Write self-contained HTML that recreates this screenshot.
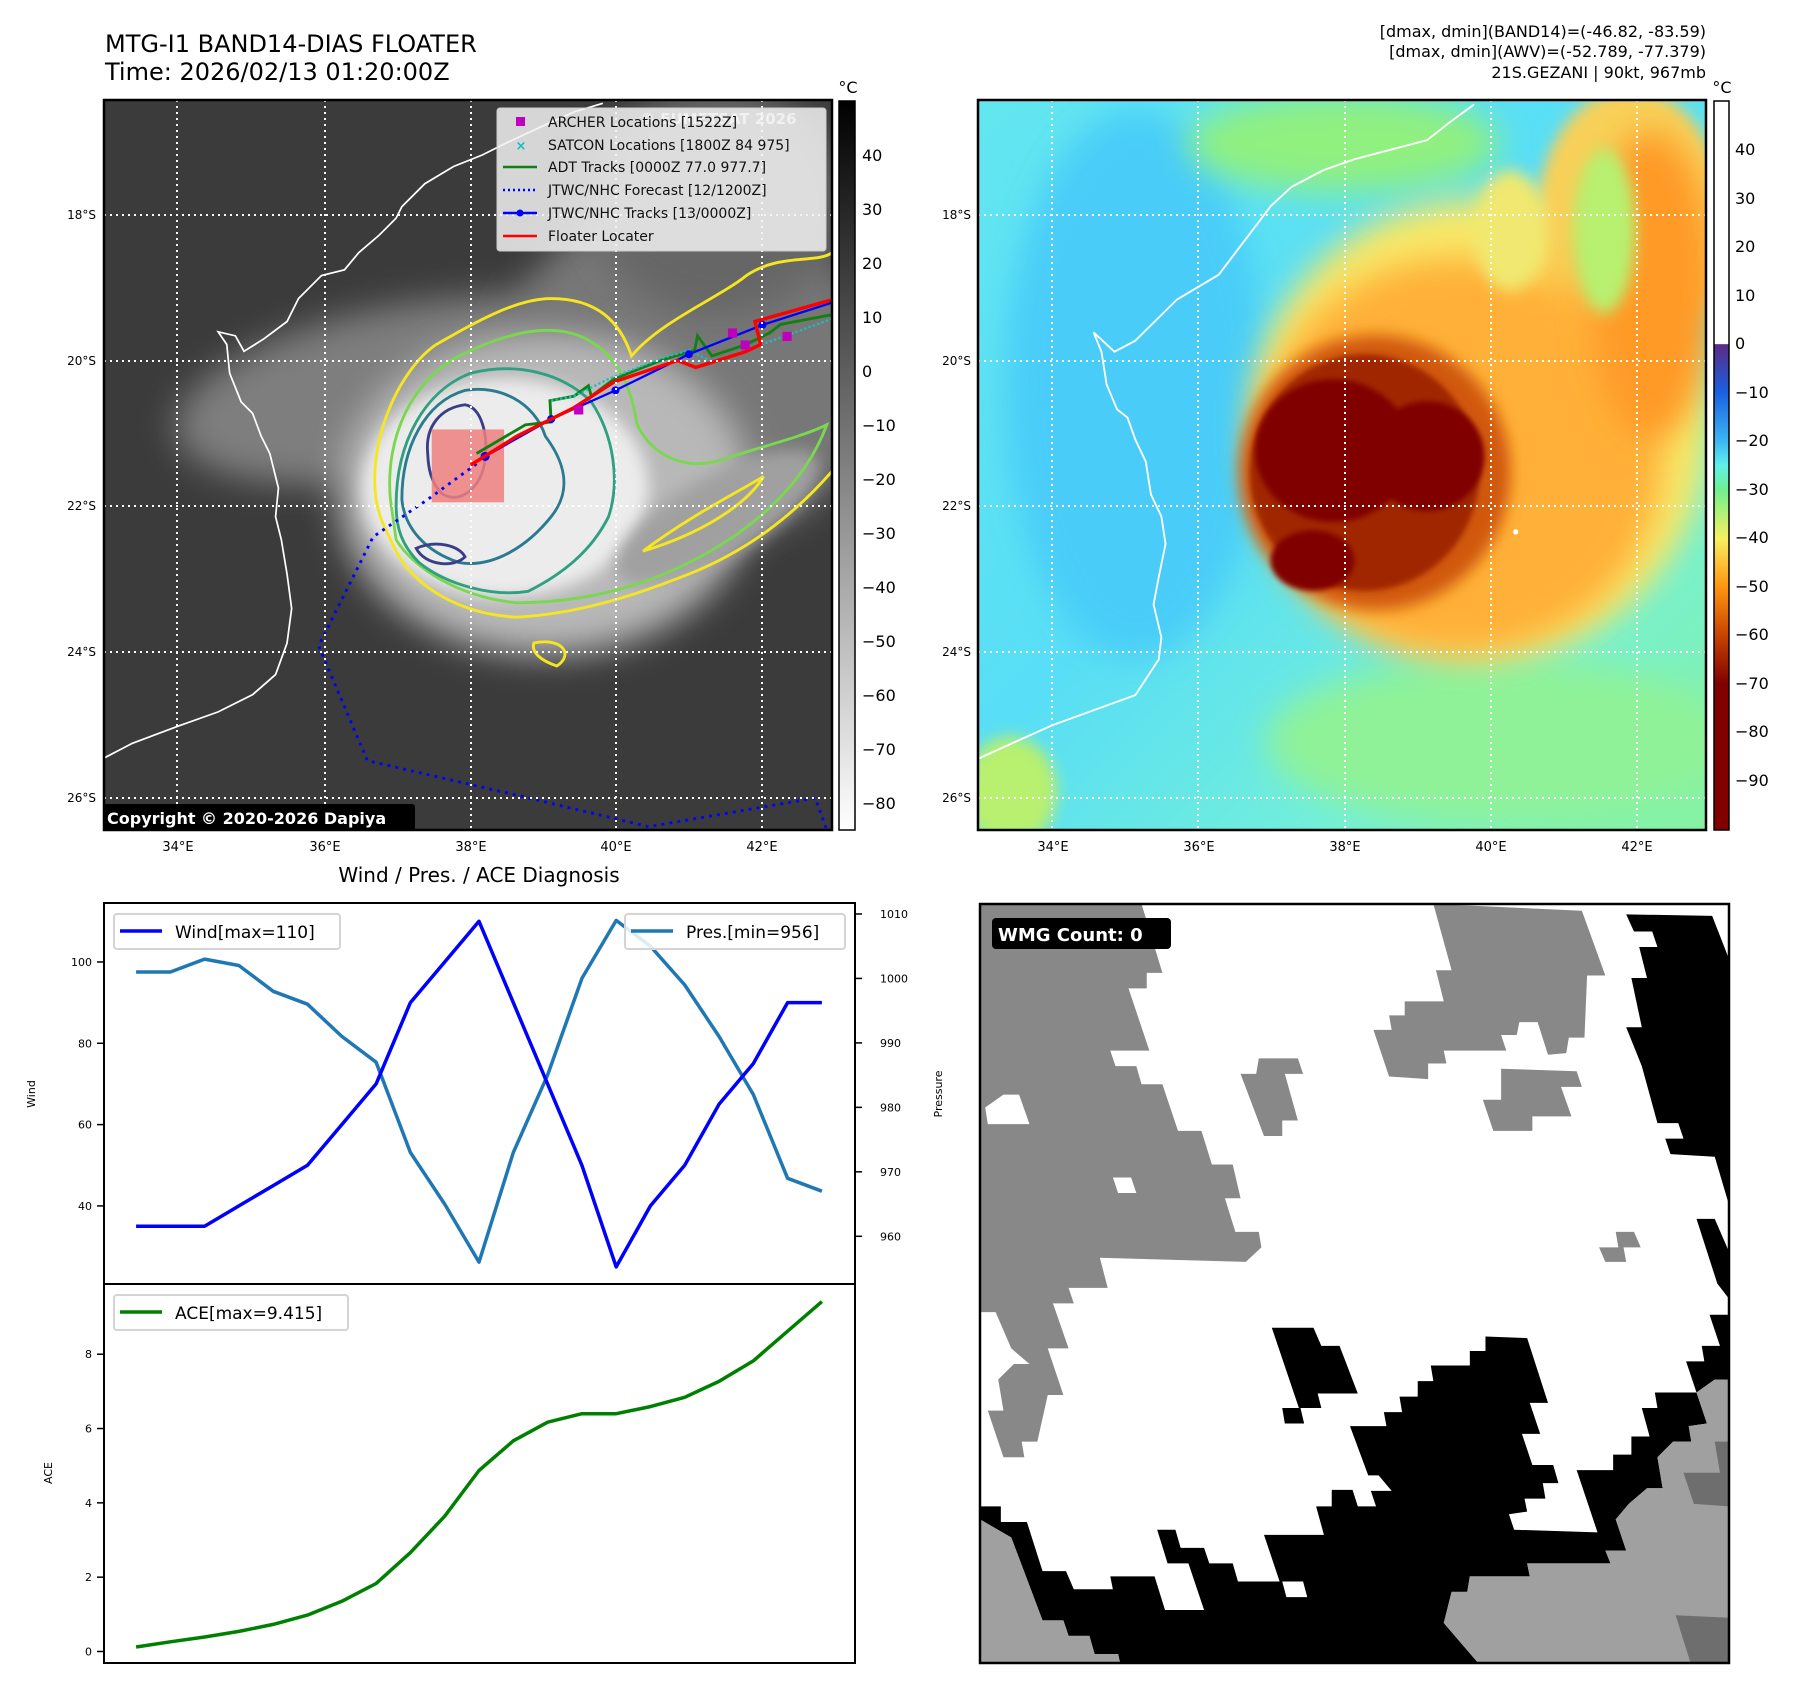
<!DOCTYPE html>
<html><head><meta charset="utf-8"><title>MTG-I1 BAND14 DIAS Floater</title>
<style>
html,body{margin:0;padding:0;background:#fff;}
svg{display:block;font-family:"DejaVu Sans","Liberation Sans",sans-serif;}
</style></head>
<body>
<svg id="page" width="1797" height="1690" viewBox="0 0 1797 1690" xmlns="http://www.w3.org/2000/svg">
<defs>
  <filter id="blur8" x="-20%" y="-20%" width="140%" height="140%"><feGaussianBlur stdDeviation="14"/></filter>
  <filter id="blur20" x="-30%" y="-30%" width="160%" height="160%"><feGaussianBlur stdDeviation="30"/></filter>
  <filter id="blur4"><feGaussianBlur stdDeviation="5"/></filter>
  <clipPath id="clip1"><rect x="104" y="100" width="728" height="730"/></clipPath>
  <clipPath id="clip2"><rect x="978" y="100" width="728" height="730"/></clipPath>
  <clipPath id="clip4"><rect x="980" y="904" width="749" height="759"/></clipPath>
  <linearGradient id="cbGray" x1="0" y1="0" x2="0" y2="1">
    <stop offset="0" stop-color="#000"/><stop offset="1" stop-color="#fff"/>
  </linearGradient>
  <linearGradient id="cbColor" x1="0" y1="0" x2="0" y2="1">
    <stop offset="0" stop-color="#fff"/>
    <stop offset="0.333" stop-color="#fff"/>
    <stop offset="0.334" stop-color="#5b2a86"/>
    <stop offset="0.40" stop-color="#1a60e0"/>
    <stop offset="0.467" stop-color="#3cb8f4"/>
    <stop offset="0.50" stop-color="#60f0e8"/>
    <stop offset="0.533" stop-color="#70f090"/>
    <stop offset="0.60" stop-color="#f8f060"/>
    <stop offset="0.667" stop-color="#ff9410"/>
    <stop offset="0.733" stop-color="#c84400"/>
    <stop offset="0.80" stop-color="#800000"/>
    <stop offset="1" stop-color="#800000"/>
  </linearGradient>
  <linearGradient id="seaBg" x1="0" y1="0" x2="1" y2="1">
    <stop offset="0" stop-color="#62e6f0"/><stop offset="0.45" stop-color="#58def6"/>
    <stop offset="0.75" stop-color="#74f0d8"/><stop offset="1" stop-color="#86f2a0"/>
  </linearGradient>
</defs>

<!-- ============ TITLES ============ -->
<text x="105" y="52" font-size="24" fill="#000">MTG-I1 BAND14-DIAS FLOATER</text>
<text x="105" y="80" font-size="24" fill="#000">Time: 2026/02/13 01:20:00Z</text>
<g font-size="16" text-anchor="end" fill="#000">
  <text x="1706" y="37">[dmax, dmin](BAND14)=(-46.82, -83.59)</text>
  <text x="1706" y="57">[dmax, dmin](AWV)=(-52.789, -77.379)</text>
  <text x="1706" y="78">21S.GEZANI | 90kt, 967mb</text>
</g>

<!-- ============ MAP 1 (IR gray) ============ -->
<g clip-path="url(#clip1)">
  <rect x="104" y="100" width="728" height="730" fill="#3b3b3b"/>
  <g transform="scale(0.5741)">
    <ellipse cx="720" cy="680" rx="420" ry="150" fill="#7e7e7e" filter="url(#blur20)" transform="rotate(-10 720 680)"/>
    <ellipse cx="1200" cy="650" rx="330" ry="300" fill="#777" filter="url(#blur20)"/>
    <ellipse cx="1250" cy="350" rx="220" ry="200" fill="#666" filter="url(#blur20)"/>
    <ellipse cx="950" cy="860" rx="360" ry="280" fill="#b8b8b8" filter="url(#blur20)"/>
    <ellipse cx="880" cy="850" rx="250" ry="190" fill="#ececec" filter="url(#blur8)"/>
    <ellipse cx="1250" cy="900" rx="200" ry="70" fill="#a0a0a0" filter="url(#blur8)" transform="rotate(-30 1250 900)"/>
    <path fill="none" stroke="#f5e620" stroke-width="5" d="M655,870 C640,760 700,640 760,600 C830,560 900,520 960,520 C1040,520 1080,560 1100,620 C1150,560 1250,520 1300,480 C1360,440 1420,460 1450,440 L1450,820 C1380,900 1300,960 1200,1000 C1100,1040 1000,1070 900,1075 C800,1070 720,1020 690,960 C670,920 660,900 655,870 Z"/>
    <path fill="none" stroke="#f5e620" stroke-width="5" d="M1120,960 C1200,900 1280,860 1330,830 C1300,880 1220,930 1120,960 Z"/>
    <path fill="none" stroke="#f5e620" stroke-width="5" d="M930,1120 C980,1110 1000,1140 970,1160 C940,1150 925,1135 930,1120 Z"/>
    <path fill="none" stroke="#7ad850" stroke-width="5" d="M680,870 C670,760 720,660 800,620 C880,580 960,560 1020,590 C1080,620 1100,680 1110,740 C1140,800 1200,820 1260,800 C1320,780 1400,760 1440,740 C1400,850 1300,930 1200,980 C1100,1030 1000,1050 900,1050 C800,1040 720,990 690,940 Z"/>
    <path fill="none" stroke="#30a080" stroke-width="5" d="M690,880 C690,770 740,680 820,650 C900,630 980,650 1030,700 C1070,760 1080,840 1060,900 C1030,960 980,1000 920,1030 C860,1040 780,1020 730,980 C700,950 690,920 690,880 Z"/>
    <path fill="none" stroke="#2a7a90" stroke-width="5" d="M700,870 C700,780 740,700 810,680 C870,670 930,700 950,760 C980,800 1000,850 960,900 C920,950 860,990 800,980 C740,960 705,920 700,870 Z"/>
    <path fill="none" stroke="#3a3d88" stroke-width="5" d="M745,790 C740,740 770,710 810,705 C840,710 850,760 845,800 C840,850 800,880 770,860 C750,840 746,815 745,790 Z"/>
    <path fill="none" stroke="#3a3d88" stroke-width="5" d="M725,955 C760,940 800,950 810,970 C790,990 740,985 725,955 Z"/>
    <rect x="752" y="748" width="126" height="127" fill="#f08080" opacity="0.85"/>
    <polyline fill="none" stroke="#0000ff" stroke-width="5" stroke-dasharray="5 9" points="830,808 745,870 650,935 555,1125 640,1325 900,1385 1130,1440 1420,1390 1440,1445"/>
    <polyline fill="none" stroke="#108010" stroke-width="5" points="830,790 915,740 960,735 958,698 1000,690 1025,672 1030,690 1070,660 1150,628 1210,610 1215,585 1240,620 1300,600 1340,580 1360,565 1450,548"/>
    <polyline fill="none" stroke="#18c0c0" stroke-width="4" stroke-dasharray="4 4" points="960,698 1000,690 1060,660 1150,625 1200,610 1240,630 1300,610 1450,555"/>
    <polyline fill="none" stroke="#0000ff" stroke-width="4" points="845,795 960,730 1072,680 1200,617 1328,566 1450,527"/>
    <g fill="#0000ff"><circle cx="845" cy="795" r="8"/><circle cx="960" cy="730" r="7"/><circle cx="1072" cy="680" r="7"/><circle cx="1200" cy="617" r="7"/><circle cx="1328" cy="566" r="7"/></g>
    <polyline fill="none" stroke="#ff0000" stroke-width="6" points="820,810 900,760 1000,710 1070,665 1180,628 1212,640 1300,612 1325,600 1315,560 1450,522"/>
    <g fill="#c000c0">
      <rect x="1268" y="572" width="16" height="16"/><rect x="1290" y="593" width="16" height="16"/><rect x="1363" y="578" width="16" height="16"/><rect x="1000" y="706" width="16" height="16"/>
    </g>
    <path fill="none" stroke="#fff" stroke-width="3" d="M182,1320 L230,1295 L310,1265 L380,1240 L440,1210 L480,1175 L500,1120 L508,1060 L500,1000 L490,940 L480,900 L485,850 L470,790 L455,760 L440,720 L420,700 L400,650 L395,600 L380,578 L410,585 L425,612 L460,590 L500,560 L520,520 L560,480 L600,470 L625,440 L660,410 L690,380 L700,360 L740,320 L790,290 L840,270 L880,250 L940,222 L1000,195 L1050,180"/>
  </g>
  <g stroke="#fff" stroke-width="2" stroke-dasharray="2 4">
    <line x1="177" y1="100" x2="177" y2="830"/><line x1="325" y1="100" x2="325" y2="830"/><line x1="471" y1="100" x2="471" y2="830"/><line x1="616" y1="100" x2="616" y2="830"/><line x1="762" y1="100" x2="762" y2="830"/>
    <line x1="104" y1="215" x2="832" y2="215"/><line x1="104" y1="361" x2="832" y2="361"/><line x1="104" y1="506" x2="832" y2="506"/><line x1="104" y1="652" x2="832" y2="652"/><line x1="104" y1="798" x2="832" y2="798"/>
  </g>
  <g>
    <rect x="497" y="108" width="329" height="143" rx="3" fill="#f2f2f2" fill-opacity="0.85" stroke="#ccc"/>
    <text x="640" y="124" font-size="15" font-weight="bold" fill="#fff" opacity="0.6">© EUMETSAT 2026</text>
    <rect x="516" y="117" width="9" height="9" fill="#c000c0"/>
    <text x="521" y="150" font-size="13" fill="#10c0c0" text-anchor="middle" font-weight="bold">×</text>
    <line x1="503" y1="167" x2="537" y2="167" stroke="#108010" stroke-width="2.5"/>
    <line x1="503" y1="190" x2="537" y2="190" stroke="#0000ff" stroke-width="2.5" stroke-dasharray="2 3"/>
    <line x1="503" y1="213" x2="537" y2="213" stroke="#0000ff" stroke-width="2.5"/><circle cx="520" cy="213" r="3.5" fill="#0000ff"/>
    <line x1="503" y1="236" x2="537" y2="236" stroke="#ff0000" stroke-width="2.5"/>
    <g font-size="14" fill="#111">
      <text x="548" y="127">ARCHER Locations [1522Z]</text>
      <text x="548" y="150">SATCON Locations [1800Z 84 975]</text>
      <text x="548" y="172">ADT Tracks [0000Z 77.0 977.7]</text>
      <text x="548" y="195">JTWC/NHC Forecast [12/1200Z]</text>
      <text x="548" y="218">JTWC/NHC Tracks [13/0000Z]</text>
      <text x="548" y="241">Floater Locater</text>
    </g>
  </g>
  <rect x="102" y="804" width="313" height="27" rx="3" fill="#000"/>
  <text x="107" y="824" font-size="16" font-weight="bold" fill="#fff">Copyright © 2020-2026 Dapiya</text>
</g>
<rect x="104" y="100" width="728" height="730" fill="none" stroke="#000" stroke-width="2.5"/>
<g font-size="12" fill="#000" text-anchor="end">
  <text x="96" y="219">18°S</text><text x="96" y="365">20°S</text><text x="96" y="510">22°S</text><text x="96" y="656">24°S</text><text x="96" y="802">26°S</text>
</g>
<g font-size="13" fill="#000" text-anchor="middle">
  <text x="178" y="851">34°E</text><text x="325" y="851">36°E</text><text x="471" y="851">38°E</text><text x="616" y="851">40°E</text><text x="762" y="851">42°E</text>
</g>
<g>
  <rect x="839" y="101" width="16" height="729" fill="url(#cbGray)" stroke="#000" stroke-width="1.5"/>
  <text x="848" y="93" font-size="16" text-anchor="middle">°C</text>
  <g font-size="16" fill="#000">
    <text x="862" y="161">40</text><text x="862" y="215">30</text><text x="862" y="269">20</text><text x="862" y="323">10</text><text x="862" y="377">0</text>
    <text x="862" y="431">−10</text><text x="862" y="485">−20</text><text x="862" y="539">−30</text><text x="862" y="593">−40</text><text x="862" y="647">−50</text>
    <text x="862" y="701">−60</text><text x="862" y="755">−70</text><text x="862" y="809">−80</text>
  </g>
</g>

<!-- ============ MAP 2 (color IR) ============ -->
<g clip-path="url(#clip2)">
  <rect x="978" y="100" width="728" height="730" fill="url(#seaBg)"/>
  <g transform="translate(979,0) scale(0.5211,0.5495)">
    <ellipse cx="300" cy="700" rx="250" ry="500" fill="#48cdf8" filter="url(#blur20)"/>
    <ellipse cx="700" cy="260" rx="300" ry="90" fill="#90f080" filter="url(#blur20)"/>
    <ellipse cx="1000" cy="1350" rx="450" ry="150" fill="#8ff298" filter="url(#blur20)"/>
    <ellipse cx="60" cy="1440" rx="90" ry="100" fill="#b8f070" filter="url(#blur8)"/>
    <ellipse cx="960" cy="780" rx="440" ry="420" fill="#f8e868" filter="url(#blur20)"/>
    <ellipse cx="1250" cy="400" rx="180" ry="240" fill="#f8d058" filter="url(#blur8)"/>
    <ellipse cx="920" cy="830" rx="390" ry="360" fill="#ffb038" filter="url(#blur20)"/>
    <ellipse cx="1290" cy="520" rx="120" ry="280" fill="#ff9a28" filter="url(#blur20)"/>
    <ellipse cx="1200" cy="420" rx="60" ry="150" fill="#b8f070" filter="url(#blur8)"/>
    <ellipse cx="1020" cy="420" rx="70" ry="110" fill="#f0e870" filter="url(#blur8)"/>
    <ellipse cx="760" cy="860" rx="260" ry="250" fill="#d05810" filter="url(#blur8)"/>
    <ellipse cx="740" cy="860" rx="220" ry="215" fill="#a02800" filter="url(#blur4)"/>
    <ellipse cx="680" cy="820" rx="150" ry="130" fill="#800000" filter="url(#blur4)"/>
    <ellipse cx="860" cy="830" rx="110" ry="100" fill="#800000" filter="url(#blur4)"/>
    <ellipse cx="640" cy="1020" rx="80" ry="55" fill="#800000" filter="url(#blur4)"/>
    <circle cx="1030" cy="968" r="5" fill="#fff"/>
    <path fill="none" stroke="#fff" stroke-width="3.5" d="M0,1380 L140,1320 L300,1265 L345,1200 L350,1160 L335,1100 L345,1050 L358,990 L350,940 L330,900 L320,840 L300,800 L285,760 L265,745 L245,700 L235,640 L220,605 L260,640 L300,620 L380,545 L460,500 L500,450 L540,400 L560,375 L600,340 L660,310 L720,290 L800,270 L860,255 L900,225 L950,190"/>
  </g>
  <g stroke="#fff" stroke-width="2" stroke-dasharray="2 4">
    <line x1="1052" y1="100" x2="1052" y2="830"/><line x1="1198" y1="100" x2="1198" y2="830"/><line x1="1345" y1="100" x2="1345" y2="830"/><line x1="1491" y1="100" x2="1491" y2="830"/><line x1="1637" y1="100" x2="1637" y2="830"/>
    <line x1="978" y1="215" x2="1706" y2="215"/><line x1="978" y1="361" x2="1706" y2="361"/><line x1="978" y1="506" x2="1706" y2="506"/><line x1="978" y1="652" x2="1706" y2="652"/><line x1="978" y1="798" x2="1706" y2="798"/>
  </g>
</g>
<rect x="978" y="100" width="728" height="730" fill="none" stroke="#000" stroke-width="2.5"/>
<g font-size="12" fill="#000" text-anchor="end">
  <text x="971" y="219">18°S</text><text x="971" y="365">20°S</text><text x="971" y="510">22°S</text><text x="971" y="656">24°S</text><text x="971" y="802">26°S</text>
</g>
<g font-size="13" fill="#000" text-anchor="middle">
  <text x="1053" y="851">34°E</text><text x="1199" y="851">36°E</text><text x="1345" y="851">38°E</text><text x="1491" y="851">40°E</text><text x="1637" y="851">42°E</text>
</g>
<g>
  <rect x="1714" y="101" width="15" height="729" fill="url(#cbColor)" stroke="#000" stroke-width="1.5"/>
  <text x="1722" y="93" font-size="16" text-anchor="middle">°C</text>
  <g font-size="16" fill="#000">
    <text x="1735" y="155">40</text><text x="1735" y="204">30</text><text x="1735" y="252">20</text><text x="1735" y="301">10</text><text x="1735" y="349">0</text>
    <text x="1735" y="398">−10</text><text x="1735" y="446">−20</text><text x="1735" y="495">−30</text><text x="1735" y="543">−40</text><text x="1735" y="592">−50</text>
    <text x="1735" y="640">−60</text><text x="1735" y="689">−70</text><text x="1735" y="737">−80</text><text x="1735" y="786">−90</text>
  </g>
</g>

<!-- ============ WMG PANEL ============ -->
<g clip-path="url(#clip4)">
  <rect x="980" y="904" width="749" height="759" fill="#fff"/>
  <g transform="translate(980,890) scale(0.5211,0.518)">
    <g fill="#888">
      <polygon points="0,27 310,27 350,160 320,160 320,190 285,190 325,310 250,310 260,340 300,340 310,375 350,375 380,465 425,465 445,530 485,530 500,595 470,595 490,660 535,660 540,690 510,718 230,710 245,768 170,768 180,798 140,798 170,885 130,885 160,975 130,975 110,1065 80,1065 85,1095 45,1095 15,1005 45,1005 35,945 65,915 95,915 60,885 30,815 0,815"/>
      <polygon points="870,27 1155,40 1200,165 1165,165 1160,285 1130,285 1125,315 1090,318 1070,255 1035,255 1030,280 1000,280 1010,310 890,310 895,335 860,335 860,365 785,360 755,270 790,270 785,242 815,242 815,215 890,215 875,155 905,155"/>
      <polygon points="1000,345 1145,350 1155,380 1115,380 1135,437 1060,437 1060,465 985,465 965,405 1000,405"/>
      <polygon points="535,325 610,325 620,355 585,355 610,445 580,445 580,475 545,475 500,355 530,355"/>
      <polygon points="1220,660 1255,660 1268,690 1235,690 1240,718 1200,718 1188,690 1225,690"/>
    </g>
    <g fill="#fff"><polygon points="10,420 45,395 75,395 95,452 15,452"/><polygon points="255,555 290,555 300,585 265,585"/></g>
    <g fill="#000">
      <polygon points="1240,47 1405,50 1438,135 1438,610 1410,515 1325,510 1315,480 1350,480 1340,450 1300,450 1270,340 1240,265 1270,265 1250,170 1280,170 1265,110 1300,110 1290,80 1255,80"/>
      <polygon points="1375,635 1410,635 1438,700 1438,790 1415,760"/>
      <polygon points="560,845 640,845 655,880 690,880 725,972 648,972 655,1000 612,1000 560,845"/>
      <polygon points="580,1000 615,1000 622,1030 585,1030"/>
      <polygon points="0,1190 40,1190 40,1220 90,1220 120,1315 165,1315 180,1350 255,1350 250,1325 335,1325 355,1390 430,1390 400,1300 360,1300 340,1235 375,1235 385,1270 430,1270 440,1300 485,1300 495,1335 575,1335 545,1245 660,1245 645,1190 675,1190 675,1158 715,1158 725,1190 760,1190 750,1160 790,1160 765,1130 745,1130 710,1035 780,1035 775,1008 810,1008 805,978 840,978 840,948 870,948 865,918 940,918 940,890 970,890 970,862 1050,865 1090,990 1055,990 1075,1050 1040,1050 1060,1110 1100,1110 1110,1145 1080,1145 1085,1175 1045,1175 1050,1200 1015,1205 1025,1235 1185,1240 1145,1120 1215,1120 1215,1090 1250,1090 1250,1055 1285,1055 1270,1000 1300,1000 1295,970 1375,970 1355,910 1390,910 1385,880 1420,880 1400,820 1438,820 1438,945 1410,945 1375,970 1395,1030 1360,1035 1365,1065 1330,1065 1300,1095 1310,1155 1280,1155 1245,1185 1220,1215 1240,1275 1200,1275 1210,1300 1050,1300 1055,1325 940,1325 935,1355 905,1355 890,1415 960,1497 270,1497 265,1475 220,1475 210,1440 170,1440 160,1410 120,1410 60,1250 0,1215"/>
    </g>
    <g fill="#fff"><polygon points="580,1335 620,1335 628,1365 588,1365"/></g>
    <g fill="#a0a0a0">
      <polygon points="0,1215 60,1250 120,1410 160,1410 170,1440 210,1440 220,1475 265,1475 270,1497 0,1497"/>
      <polygon points="1438,945 1438,1497 960,1497 890,1415 905,1355 935,1355 940,1325 1055,1325 1050,1300 1210,1300 1200,1275 1240,1275 1220,1215 1245,1185 1280,1155 1310,1155 1300,1095 1330,1065 1365,1065 1360,1035 1395,1030 1375,970 1410,945"/>
    </g>
    <g fill="#6e6e6e">
      <polygon points="1410,1065 1438,1065 1438,1190 1370,1185 1350,1125 1420,1125"/>
      <polygon points="1335,1400 1438,1405 1438,1497 1365,1497"/>
    </g>
  </g>
  <rect x="992" y="918" width="179" height="31" rx="4" fill="#000"/>
  <text x="998" y="941" font-size="18" font-weight="bold" fill="#fff">WMG Count: 0</text>
</g>
<rect x="980" y="904" width="749" height="759" fill="none" stroke="#000" stroke-width="2.5"/>

<!-- ============ TIME SERIES ============ -->
<text x="479" y="882" font-size="20" text-anchor="middle">Wind / Pres. / ACE Diagnosis</text>
<g id="ts"></g>
</svg>

<script>
const windValues = [35,35,35,40,45,50,60,70,90,100,110,90,70,50,25,40,50,65,75,90,90];
const presValues = [1001,1001,1003,1002,998,996,991,987,973,965,956,973,985,1000,1009,1005,999,991,982,969,967];
const aceValues = [0.12,0.26,0.39,0.54,0.73,0.98,1.35,1.83,2.66,3.64,4.87,5.67,6.17,6.40,6.40,6.59,6.84,7.27,7.82,8.62,9.415];
const windTicks = [40,60,80,100];
const presTicks = [960,970,980,990,1000,1010];
const aceTicks = [0,2,4,6,8];

const NS = 'http://www.w3.org/2000/svg';
const g = document.getElementById('ts');
const L = 104, R = 855, T1 = 903, B1 = 1284, T2 = 1284, B2 = 1663;
const xs = i => L + (i + 0.935) / 21.9 * (R - L);
const yWind = v => B1 - (v - 20.8) / (114.5 - 20.8) * (B1 - T1);
const yPres = v => B1 - (v - 952.6) / (1011.7 - 952.6) * (B1 - T1);
const yAce = v => B2 - (v + 0.31) / (9.89 + 0.31) * (B2 - T2);

function mk(tag, attrs, parent) {
  const e = document.createElementNS(NS, tag);
  for (const k in attrs) e.setAttribute(k, attrs[k]);
  (parent || g).appendChild(e);
  return e;
}
function txt(x, y, s, size, anchor, parent) {
  const t = mk('text', {x: x, y: y, 'font-size': size, 'text-anchor': anchor || 'start', fill: '#000'}, parent);
  t.textContent = s;
  return t;
}
function line(series, yf, color, name) {
  const pts = series.map((v, i) => xs(i).toFixed(1) + ',' + yf(v).toFixed(1)).join(' ');
  const p = mk('polyline', {points: pts, fill: 'none', stroke: color, 'stroke-width': 3.5, 'stroke-linejoin': 'round'});
  
  
}

line(presValues, yPres, '#1f77b4', 'pressure-line');
line(windValues, yWind, '#0000ff', 'wind-line');
line(aceValues, yAce, '#008000', 'ace-line');

const f1 = mk('rect', {x: L, y: T1, width: R - L, height: B1 - T1, fill: 'none', stroke: '#000', 'stroke-width': 2});


const f2 = mk('rect', {x: L, y: T2, width: R - L, height: B2 - T2, fill: 'none', stroke: '#000', 'stroke-width': 2});



windTicks.forEach(v => {
  const y = yWind(v);
  const tk = mk('line', {x1: L - 7, y1: y, x2: L, y2: y, stroke: '#000', 'stroke-width': 1.5});
  
  
  txt(L - 12, y + 4, String(v), 11, 'end');
});
presTicks.forEach(v => {
  const y = yPres(v);
  const tk = mk('line', {x1: R, y1: y, x2: R + 7, y2: y, stroke: '#000', 'stroke-width': 1.5});
  
  
  txt(R + 25, y + 4, String(v), 11, 'start');
});
aceTicks.forEach(v => {
  const y = yAce(v);
  const tk = mk('line', {x1: L - 7, y1: y, x2: L, y2: y, stroke: '#000', 'stroke-width': 1.5});
  
  
  txt(L - 12, y + 4, String(v), 11, 'end');
});

const wt = txt(0, 0, 'Wind', 11, 'middle');
wt.setAttribute('transform', 'translate(35,1094) rotate(-90)');


const pt = txt(0, 0, 'Pressure', 11, 'middle');
pt.setAttribute('transform', 'translate(942,1094) rotate(-90)');


const at = txt(0, 0, 'ACE', 11, 'middle');
at.setAttribute('transform', 'translate(52,1473) rotate(-90)');



function legend(x, y, w, color, label, name) {
  const grp = mk('g', {});
  
  
  mk('rect', {x: x, y: y, width: w, height: 35, rx: 3, fill: '#fff', 'fill-opacity': 0.85, stroke: '#d4d4d4', 'stroke-width': 2}, grp);
  mk('line', {x1: x + 6, y1: y + 17, x2: x + 48, y2: y + 17, stroke: color, 'stroke-width': 3.5}, grp);
  txt(x + 61, y + 24, label, 17, 'start', grp);
}
legend(114, 914, 226, '#0000ff', 'Wind[max=' + Math.max(...windValues) + ']', 'wind-legend');
legend(625, 914, 220, '#1f77b4', 'Pres.[min=' + Math.min(...presValues) + ']', 'pressure-legend');
legend(114, 1295, 234, '#008000', 'ACE[max=' + Math.max(...aceValues) + ']', 'ace-legend');
</script>
</body></html>
